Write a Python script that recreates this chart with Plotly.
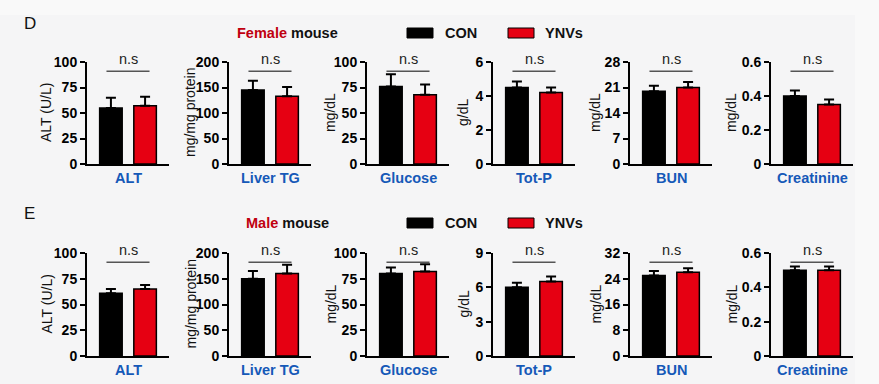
import plotly.graph_objects as go

# ---------------- data ----------------
categories = ["ALT", "Liver TG", "Glucose", "Tot-P", "BUN", "Creatinine"]
y_titles = ["ALT (U/L)", "mg/mg protein", "mg/dL", "g/dL", "mg/dL", "mg/dL"]
groups = ["CON", "YNVs"]

female_con = [55, 145, 76, 4.5, 20, 0.40]
female_con_sem = [10, 18, 12, 0.35, 1.5, 0.033]
female_ynv = [57, 133, 68, 4.2, 21, 0.35]
female_ynv_sem = [9, 18, 10, 0.30, 1.5, 0.030]

male_con = [61, 150, 80, 6.0, 25, 0.50]
male_con_sem = [4, 15, 6, 0.40, 1.4, 0.022]
male_ynv = [65, 160, 82, 6.5, 26, 0.50]
male_ynv_sem = [4, 17, 7, 0.45, 1.3, 0.022]

female_ymax = [100, 200, 100, 6, 28, 0.6]
female_dtick = [25, 50, 25, 2, 7, 0.2]
male_ymax = [100, 200, 100, 9, 32, 0.6]
male_dtick = [25, 50, 25, 3, 8, 0.2]

sig_labels = ["n.s"] * 6
row_labels = ["D", "E"]
row_sex = ["Female", "Male"]

# ---------------- style ----------------
W, H = 879, 384
FONT = "Liberation Sans, Arial, sans-serif"
BG = "#f9f9f9"
PANEL_BG = "#f5f5f6"
BLACK = "#000000"
RED = "#e60012"
BLUE = "#1559b8"
DARKRED = "#c00010"
group_colors = [BLACK, RED]

x_starts = [87, 229, 367, 493, 630, 771]   # px, y-axis position of each panel
panel_w = 82
row_y = [(62, 164), (253, 356)]             # px top/bottom of plot areas
ytitle_off = [41, 39, 37, 30, 35, 40]

rows = [
    (female_con, female_con_sem, female_ynv, female_ynv_sem, female_ymax, female_dtick),
    (male_con, male_con_sem, male_ynv, male_ynv_sem, male_ymax, male_dtick),
]

fig = go.Figure()
layout = dict(
    width=W, height=H, margin=dict(l=0, r=0, t=0, b=0, pad=0, autoexpand=False),
    paper_bgcolor=BG, plot_bgcolor="rgba(0,0,0,0)", showlegend=False,
    font=dict(family=FONT, color="black"),
)
annotations = []
shapes = [dict(type="rect", xref="paper", yref="paper", x0=0, x1=855 / W, y0=0, y1=1 - 15 / H,
               fillcolor=PANEL_BG, line=dict(width=0), layer="below")]

for r, (con, con_s, ynv, ynv_s, ymax, dtick) in enumerate(rows):
    top, bot = row_y[r]
    for i, cat in enumerate(categories):
        k = r * 6 + i + 1
        xa = "x" if k == 1 else f"x{k}"
        ya = "y" if k == 1 else f"y{k}"
        vals = [con[i], ynv[i]]
        sems = [con_s[i], ynv_s[i]]
        for g in range(2):
            fig.add_trace(go.Bar(
                x=[groups[g]], y=[vals[g]], width=0.66,
                marker=dict(color=group_colors[g], line=dict(color=BLACK, width=1.5)),
                error_y=dict(type="data", symmetric=False, array=[sems[g]], arrayminus=[0],
                             color=BLACK, thickness=2, width=5),
                xaxis=xa, yaxis=ya, name=groups[g],
            ))
        x0 = x_starts[i] / W
        x1 = (x_starts[i] + panel_w) / W
        layout[xa.replace("x", "xaxis", 1)] = dict(
            domain=[x0, x1], anchor=ya, type="category",
            categoryorder="array", categoryarray=groups,
            range=[-0.7, 1.7], showticklabels=False, ticks="",
            showline=True, linecolor=BLACK, linewidth=2,
            showgrid=False, zeroline=False, fixedrange=True, automargin=False,
        )
        tv = []
        v = 0.0
        while v <= ymax[i] + 1e-9:
            tv.append(round(v, 6))
            v += dtick[i]
        tt = ["0" if t == 0 else (f"{t:.1f}" if ymax[i] < 1 else f"{int(round(t))}") for t in tv]
        layout[ya.replace("y", "yaxis", 1)] = dict(
            domain=[1 - bot / H, 1 - top / H], anchor=xa,
            range=[0, ymax[i]], tickvals=tv, ticktext=tt,
            ticks="outside", ticklen=5, tickwidth=1.5, tickcolor=BLACK,
            tickfont=dict(family=FONT, size=14, color=BLACK, weight="bold"),
            showline=True, linecolor=BLACK, linewidth=2,
            showgrid=False, zeroline=False, fixedrange=True, automargin=False,
        )
        # y-axis title
        annotations.append(dict(
            text=y_titles[i], xref=f"{xa} domain", yref=f"{ya} domain",
            x=0, y=0.5, xshift=-ytitle_off[i], xanchor="center", yanchor="middle",
            textangle=-90, showarrow=False,
            font=dict(family=FONT, size=14, color="#111111"),
        ))
        # category label
        annotations.append(dict(
            text=f"<b>{cat}</b>", xref=f"{xa} domain", yref=f"{ya} domain",
            x=0.5, y=0, yshift=-4, xanchor="center", yanchor="top",
            showarrow=False, font=dict(family=FONT, size=14.5, color=BLUE),
        ))
        # significance
        shapes.append(dict(
            type="line", xref=xa, yref=f"{ya} domain",
            x0=-0.13, x1=1.13, y0=0.91, y1=0.91,
            line=dict(color="#555555", width=1.5),
        ))
        annotations.append(dict(
            text=sig_labels[i], xref=xa, yref=f"{ya} domain",
            x=0.5, y=0.93, xanchor="center", yanchor="bottom",
            showarrow=False, font=dict(family=FONT, size=14.5, color="#222222"),
        ))

    # row header, label and legend
    dy = 0 if r == 0 else 190
    annotations.append(dict(
        text=row_labels[r], xref="paper", yref="paper",
        x=22 / W, y=1 - (23 + dy) / H, xanchor="left", yanchor="middle",
        showarrow=False, font=dict(family=FONT, size=17, color="#111111"),
    ))
    annotations.append(dict(
        text=f"<b><span style='color:{DARKRED}'>{row_sex[r]}</span> mouse</b>",
        xref="paper", yref="paper", x=287 / W, y=1 - (33 + dy) / H,
        xanchor="center", yanchor="middle", showarrow=False,
        font=dict(family=FONT, size=14.5, color="#111111"),
    ))
    leg_box_x = [407, 508]
    leg_txt_x = [443, 543]
    for g in range(2):
        shapes.append(dict(
            type="rect", xref="paper", yref="paper",
            x0=leg_box_x[g] / W, x1=(leg_box_x[g] + 26) / W,
            y0=1 - (38 + dy) / H, y1=1 - (28 + dy) / H,
            fillcolor=group_colors[g], line=dict(color=BLACK, width=1),
        ))
        annotations.append(dict(
            text=f"<b>{groups[g]}</b>", xref="paper", yref="paper",
            x=leg_txt_x[g] / W, y=1 - (33 + dy) / H, xanchor="left", yanchor="middle",
            showarrow=False, font=dict(family=FONT, size=14.5, color="#111111"),
        ))

layout["annotations"] = annotations
layout["shapes"] = shapes
fig.update_layout(**layout)
fig.write_html(
    "out.html",
    config={"displayModeBar": False},
    post_script="document.body.style.margin='0px';document.body.style.background='" + BG + "';",
)
